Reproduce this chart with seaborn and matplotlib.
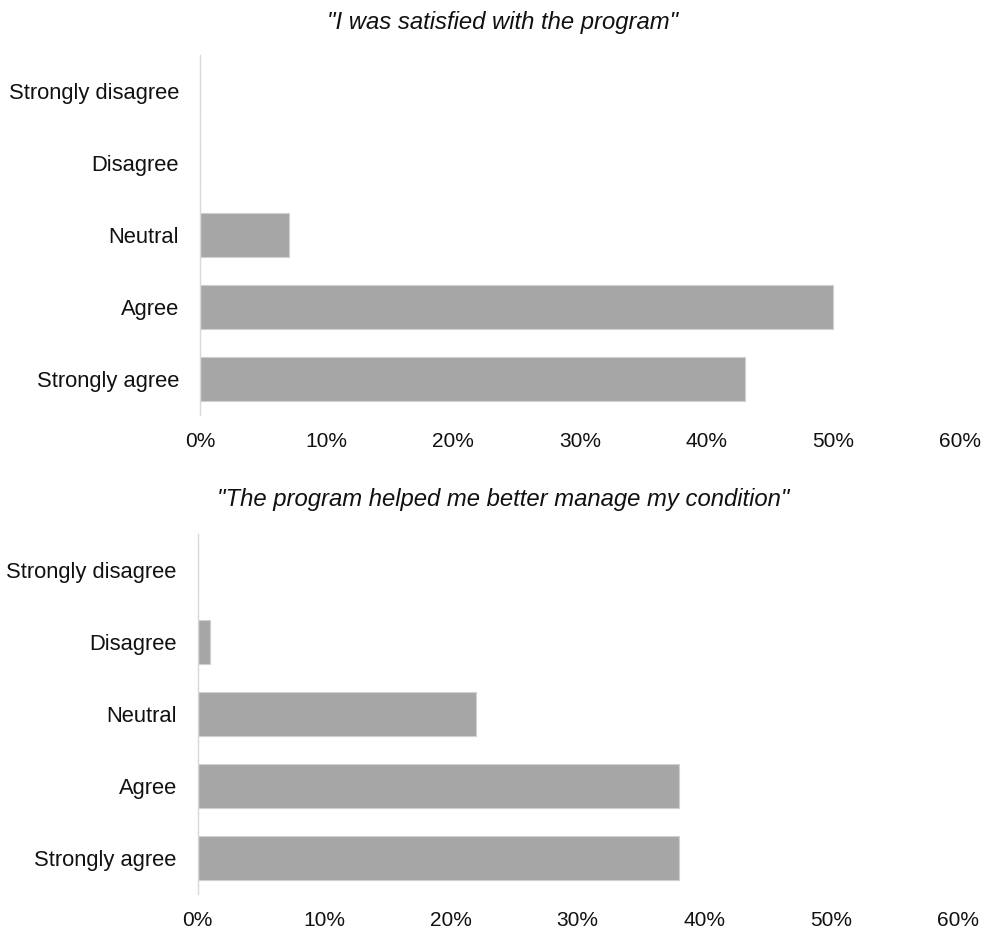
import matplotlib
matplotlib.use("Agg")
import matplotlib.pyplot as plt
import seaborn as sns
import pandas as pd
from matplotlib.ticker import FuncFormatter

categories = ["Strongly disagree", "Disagree", "Neutral", "Agree", "Strongly agree"]
satisfied = [0, 0, 7, 50, 43]
helped = [0, 1, 22, 38, 38]
titles = ['"I was satisfied with the program"',
          '"The program helped me better manage my condition"']
xticks = [0, 10, 20, 30, 40, 50, 60]

sns.set_theme(style="white")
plt.rcParams["font.family"] = ["Liberation Sans", "DejaVu Sans"]

fig = plt.figure(figsize=(9.85, 9.34), dpi=100)
ax_positions = [
    [200 / 985, 1 - 415 / 934, 760 / 985, 360 / 934],
    [197.7 / 985, 1 - 894 / 934, 760 / 985, 360 / 934],
]
title_y = [1 - 22 / 934, 1 - 499 / 934]

for pos, vals, title, ty in zip(ax_positions, [satisfied, helped], titles, title_y):
    ax = fig.add_axes(pos)
    df = pd.DataFrame({"category": categories, "value": vals})
    sns.barplot(data=df, x="value", y="category", order=categories,
                color="#a6a6a6", saturation=1, width=0.62,
                edgecolor="#d0d0d0", linewidth=0.8, ax=ax)
    ax.set_xlim(0, 60)
    ax.set_ylim(4.5, -0.5)
    ax.set_xticks(xticks)
    ax.xaxis.set_major_formatter(FuncFormatter(lambda v, p: f"{int(v)}%"))
    ax.set_xlabel("")
    ax.set_ylabel("")
    for s in ["top", "right", "bottom"]:
        ax.spines[s].set_visible(False)
    ax.spines["left"].set_color("#d9d9d9")
    ax.spines["left"].set_linewidth(1.0)
    ax.tick_params(axis="x", length=0, pad=12, labelsize=15, labelcolor="#111111")
    ax.tick_params(axis="y", length=0, pad=15, labelsize=15.8, labelcolor="#111111")
    fig.text(503 / 985, ty, title, ha="center", va="center",
             fontsize=17.2, style="italic", color="#111111")

fig.savefig("out.png", dpi=100, facecolor="white")
